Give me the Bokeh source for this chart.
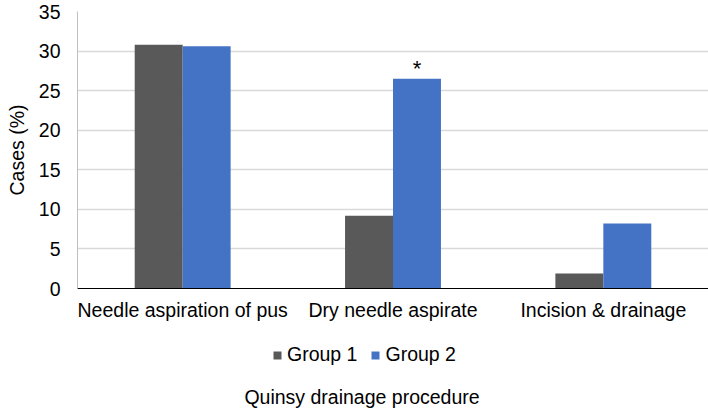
from bokeh.plotting import figure
from bokeh.models import ColumnDataSource, FactorRange, Range1d, Legend, LegendItem, Label
from bokeh.layouts import column
from bokeh.transform import dodge
from bokeh.core.properties import value
from bokeh.embed import file_html
from bokeh.resources import INLINE

procedures = ["Needle aspiration of pus", "Dry needle aspirate", "Incision & drainage"]
group1 = [30.8, 9.2, 1.9]
group2 = [30.6, 26.5, 8.2]
significance = ["", "*", ""]
y_ticks = [0, 5, 10, 15, 20, 25, 30, 35]
x_title = "Quinsy drainage procedure"

FONT = "Liberation Sans"
FS = "19.5px"
C1 = "#595959"
C2 = "#4472C4"

src = ColumnDataSource(dict(proc=procedures, g1=group1, g2=group2, sig=significance))

# ---- main chart ----
p = figure(x_range=FactorRange(factors=procedures, range_padding=0), y_range=(0, 35),
           frame_width=631, frame_height=277, output_backend="svg", toolbar_location=None,
           min_border_left=77, min_border_right=0, min_border_top=11, min_border_bottom=34)

r1 = p.vbar(x=dodge("proc", -0.114, range=p.x_range), top="g1", width=0.228,
            source=src, fill_color=C1, line_color=None)
r2 = p.vbar(x=dodge("proc", 0.114, range=p.x_range), top="g2", width=0.228,
            source=src, fill_color=C2, line_color=None)
p.text(x=dodge("proc", 0.114, range=p.x_range), y="g2", text="sig", source=src,
       text_align="center", text_baseline="middle", y_offset=-10,
       text_font=value(FONT), text_font_size="22px", text_color="#000000")

p.outline_line_color = None
p.xgrid.grid_line_color = None
p.ygrid.grid_line_color = "#d9d9d9"
p.ygrid.grid_line_width = 1.5

p.xaxis.axis_line_color = "#000000"
p.xaxis.axis_line_width = 1
p.xaxis.major_tick_line_color = None
p.xaxis.minor_tick_line_color = None
p.xaxis.major_tick_out = 0
p.xaxis.major_label_standoff = 10
p.xaxis.major_label_text_font = FONT
p.xaxis.major_label_text_font_size = FS
p.xaxis.major_label_text_color = "#000000"

p.yaxis.ticker = y_ticks
p.yaxis.axis_line_color = "#bfbfbf"
p.yaxis.major_tick_line_color = None
p.yaxis.minor_tick_line_color = None
p.yaxis.major_tick_out = 0
p.yaxis.major_label_standoff = 17
p.yaxis.major_label_text_font = FONT
p.yaxis.major_label_text_font_size = FS
p.yaxis.major_label_text_color = "#000000"
p.yaxis.axis_label = "Cases (%)"
p.yaxis.axis_label_standoff = 8
p.yaxis.axis_label_text_font = FONT
p.yaxis.axis_label_text_font_size = FS
p.yaxis.axis_label_text_font_style = "normal"
p.yaxis.axis_label_text_color = "#000000"

# ---- legend + axis title strip ----
p2 = figure(x_range=FactorRange(factors=procedures, range_padding=0), y_range=Range1d(-2, -1),
            width=708, height=89, output_backend="svg", toolbar_location=None,
            x_axis_type=None, y_axis_type=None, min_border=0)
p2.grid.visible = False
p2.outline_line_color = None
l1 = p2.vbar(x="proc", top="g1", width=0.228, source=src, fill_color=C1, line_color=None)
l2 = p2.vbar(x="proc", top="g2", width=0.228, source=src, fill_color=C2, line_color=None)
l1.visible = False
l2.visible = False

legend = Legend(items=[LegendItem(label="Group 1", renderers=[l1]),
                       LegendItem(label="Group 2", renderers=[l2])],
                orientation="horizontal", location=(195, 46),
                glyph_width=10, glyph_height=10, label_standoff=5, spacing=13,
                padding=0, margin=0, border_line_color=None, background_fill_alpha=0,
                inactive_fill_alpha=0,
                label_text_font=FONT, label_text_font_size=FS, label_text_color="#000000")
p2.add_layout(legend, "center")

xtitle = Label(x=284.5, y=16, x_units="screen", y_units="screen", text=x_title,
               text_align="center", text_baseline="middle",
               text_font=FONT, text_font_size=FS, text_color="#000000")
p2.add_layout(xtitle)

open("out.html", "w").write(file_html(column(p, p2, spacing=0), INLINE))
